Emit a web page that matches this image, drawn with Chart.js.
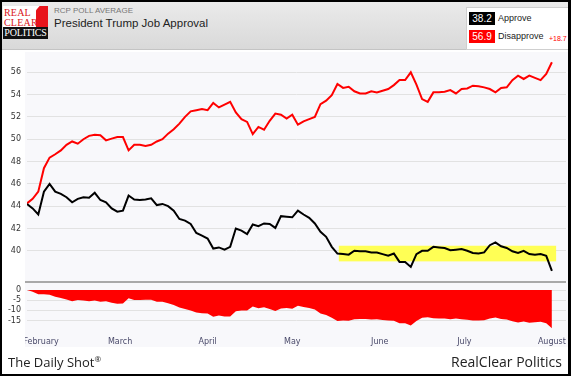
<!DOCTYPE html>
<html>
<head>
<meta charset="utf-8">
<script src="https://cdn.jsdelivr.net/npm/chart.js@4.4.1/dist/chart.umd.min.js"></script>
<style>
  body { margin: 0; background: #fff; }
  #wrap { position: relative; width: 571px; height: 376px; overflow: hidden; background: #fff; font-family: "Liberation Sans", Arial, sans-serif; }
  #header { position: absolute; left: 0; top: 0; width: 571px; height: 49px; background: linear-gradient(#ebebeb, #d9d9d9); border-bottom: 1px solid #c4c4c4; }
  #logo { position: absolute; left: 3px; top: 6px; width: 45px; height: 33px; background: #fff; overflow: hidden; }
  #logo .corner { position: absolute; right: 0; top: 0; width: 12px; height: 21px; background: #e8141b; clip-path: polygon(30% 0, 100% 0, 100% 100%, 0 100%, 0 20%); }
  #logo .txt { position: absolute; left: 1px; font-family: "Liberation Serif", serif; color: #d9141b; font-size: 10px; line-height: 10px; letter-spacing: 0.2px; }
  #logo .bar { position: absolute; left: 0; bottom: 0; width: 45px; height: 12px; background: #111; color: #fff; font-family: "Liberation Serif", serif; font-size: 10px; line-height: 12px; text-align: center; letter-spacing: -0.2px; }
  #sub { position: absolute; left: 54px; top: 6px; font-size: 8px; color: #777; }
  #title { position: absolute; left: 54px; top: 17px; font-size: 11.5px; color: #222; }
  #legend { position: absolute; left: 466px; top: 7px; width: 110px; height: 41px; background: #fff; border: 1px solid #cfcfcf; }
  .badge { position: absolute; left: 2px; width: 26px; height: 13px; color: #fff; font-size: 10px; line-height: 13px; text-align: center; }
  .lab { position: absolute; left: 31px; font-size: 9px; line-height: 13px; color: #222; }
  #diff { position: absolute; left: 82px; top: 24px; font-size: 7px; line-height: 13px; color: #ff0000; }
  #plotbg { position: absolute; left: 25px; top: 52px; width: 543px; height: 295px; background: #f8f8fb; }
  canvas { position: absolute; left: 0; }
  #topChart { top: 52px; }
  #bottomChart { top: 284px; }
  #foot1 { position: absolute; left: 8px; top: 353px; font-family: "Open Sans", sans-serif; font-size: 13px; color: #222; }
  #foot1 sup { font-size: 8px; }
  #foot2 { position: absolute; right: 9px; top: 352px; font-family: "Open Sans", sans-serif; font-size: 14px; color: #222; }
  #frame { position: absolute; left: 0; top: 0; width: 571px; height: 376px; box-sizing: border-box; border: 2px solid #000; border-right-width: 3px; pointer-events: none; }
</style>
</head>
<body>
<div id="wrap">
  <div id="header">
    <div id="logo">
      <div class="corner"></div>
      <div class="txt" style="top:2px">REAL</div>
      <div class="txt" style="top:12px">CLEAR</div>
      <div class="bar">POLITICS</div>
    </div>
    <div id="sub">RCP POLL AVERAGE</div>
    <div id="title">President Trump Job Approval</div>
    <div id="legend">
      <div class="badge" id="approveBadge" style="top:4px; background:#000"></div>
      <div class="lab" style="top:4px">Approve</div>
      <div class="badge" id="disapproveBadge" style="top:22px; background:#ff0000"></div>
      <div class="lab" style="top:22px">Disapprove</div>
      <div id="diff"></div>
    </div>
  </div>
  <div id="plotbg"></div>
  <canvas id="topChart" width="568" height="231"></canvas>
  <canvas id="bottomChart" width="568" height="73"></canvas>
  <div id="foot1">The Daily Shot<sup>®</sup></div>
  <div id="foot2">RealClear Politics</div>
  <div id="frame"></div>
</div>

<script>
// RCP poll average, one value every 2 days starting Jan 27, 2017 (day 0)
const dayStep = 2;

const approve = [
  44.2, 43.8, 43.25, 45.3, 46.0, 45.3, 45.1, 44.8, 44.35, 44.65,
  44.8, 44.75, 45.2, 44.55, 44.35, 43.8, 43.5, 43.6, 44.95, 44.6,
  44.55, 44.6, 44.7, 44.1, 44.2, 44.0, 43.6, 42.85, 42.7, 42.4,
  41.6, 41.35, 41.1, 40.2, 40.3, 40.1, 40.35, 42.0, 41.8, 41.5,
  42.35, 42.2, 42.45, 42.4, 42.05, 43.1, 43.05, 43.0, 43.6, 43.25,
  42.95, 42.45, 41.7, 41.25, 40.35, 39.75, 39.7, 39.65, 40.0, 39.95,
  39.95, 39.85, 39.85, 39.7, 39.55, 39.75, 39.0, 39.0, 38.55, 39.7,
  40.0, 40.0, 40.35, 40.3, 40.25, 40.05, 40.1, 40.15, 40.0, 39.8,
  39.75, 39.85, 40.5, 40.75, 40.4, 40.25, 39.95, 39.8, 40.0, 39.7,
  39.65, 39.7, 39.55, 38.2
];

const disapprove = [
  44.25, 44.65, 45.3, 47.4, 48.35, 48.65, 49.0, 49.5, 49.8, 49.6,
  50.0, 50.3, 50.4, 50.35, 49.9, 50.05, 50.2, 50.2, 49.0, 49.5,
  49.5, 49.4, 49.5, 49.8, 50.0, 50.5, 50.9, 51.4, 52.0, 52.5,
  52.6, 52.7, 52.6, 53.25, 52.85, 53.1, 53.35, 52.4, 51.8, 51.55,
  50.45, 51.1, 50.85, 51.65, 52.3, 52.2, 51.85, 52.2, 51.3, 51.6,
  51.8, 52.0, 53.15, 53.45, 53.95, 54.95, 54.6, 54.7, 54.3, 54.1,
  54.1, 54.3, 54.2, 54.35, 54.5, 54.85, 55.3, 55.3, 56.0, 54.9,
  53.6, 53.35, 54.2, 54.2, 54.25, 54.4, 54.1, 54.5, 54.55, 54.8,
  54.75, 54.65, 54.5, 54.2, 54.6, 54.65, 55.3, 55.7, 55.4, 55.7,
  55.5, 55.3, 55.85, 56.9
];

const spread = [
  -0.05, -0.85, -2.05, -2.1, -2.35, -3.35, -3.9, -4.7, -5.45, -4.95,
  -5.2, -5.55, -5.2, -5.8, -5.55, -6.25, -6.7, -6.6, -4.05, -4.9,
  -4.95, -4.8, -4.8, -5.7, -5.8, -6.5, -7.3, -8.55, -9.3, -10.1,
  -11.0, -11.35, -11.5, -13.05, -12.55, -13.0, -13.0, -10.4, -10.0, -10.05,
  -8.1, -8.9, -8.4, -9.25, -10.25, -9.1, -8.8, -9.2, -7.7, -8.35,
  -8.85, -9.55, -11.45, -12.2, -13.6, -15.2, -14.9, -15.05, -14.3, -14.15,
  -14.15, -14.45, -14.35, -14.65, -14.95, -15.1, -16.3, -16.3, -17.45, -15.2,
  -13.6, -13.35, -13.85, -13.9, -14.0, -14.35, -14.0, -14.35, -14.55, -15.0,
  -15.0, -14.8, -14.0, -13.45, -14.2, -14.4, -15.35, -15.9, -15.4, -16.0,
  -15.85, -15.6, -16.3, -18.7
];

const monthLabels = ['February', 'March', 'April', 'May', 'June', 'July', 'August'];
const monthDays = [5, 33, 64, 94, 125, 155, 186];
const approvalTicks = [40, 42, 44, 46, 48, 50, 52, 54, 56];
const spreadTicks = [0, -5, -10, -15];

const latestApprove = '38.2';
const latestDisapprove = '56.9';
const latestSpread = '+18.7';

// yellow band: days and values it covers
const bandDays = [110.5, 187.5];
const bandValues = [39.05, 40.45];

document.getElementById('approveBadge').textContent = latestApprove;
document.getElementById('disapproveBadge').textContent = latestDisapprove;
document.getElementById('diff').textContent = latestSpread;

const toPoints = arr => arr.map((v, i) => ({ x: i * dayStep, y: v }));

const tickFont = { family: 'DejaVu Sans', size: 8 };

// keep the plot area where it is, whatever the labels need
const fixY = s => { s.width = 27; s.paddingTop = 0; s.paddingBottom = 0; };
const fixX = s => { s.paddingLeft = 0; s.paddingRight = 0; };

const bandPlugin = {
  id: 'band',
  beforeDatasetsDraw(chart) {
    const { ctx, scales } = chart;
    const x1 = scales.x.getPixelForValue(bandDays[0]);
    const x2 = scales.x.getPixelForValue(bandDays[1]);
    const y1 = scales.y.getPixelForValue(bandValues[1]);
    const y2 = scales.y.getPixelForValue(bandValues[0]);
    ctx.save();
    ctx.fillStyle = '#ffff55';
    ctx.fillRect(x1, y1, x2 - x1, y2 - y1);
    ctx.restore();
  },
  afterDraw(chart) {
    const { ctx, chartArea } = chart;
    ctx.save();
    ctx.strokeStyle = '#a9a9a9';
    ctx.lineWidth = 2;
    ctx.beginPath();
    ctx.moveTo(chartArea.left - 2, chartArea.bottom);
    ctx.lineTo(chartArea.right, chartArea.bottom);
    ctx.stroke();
    ctx.restore();
  }
};

const clipPlugin = {
  id: 'clipLeft',
  afterDraw(chart) {
    const { ctx, chartArea } = chart;
    ctx.save();
    ctx.fillStyle = '#fff';
    ctx.fillRect(0, chartArea.bottom + 2, 25, chart.height);
    ctx.restore();
  }
};

new Chart(document.getElementById('topChart'), {
  type: 'line',
  data: {
    datasets: [
      {
        label: 'Approve',
        data: toPoints(approve),
        borderColor: '#000000',
        borderWidth: 2,
        pointRadius: 0,
        tension: 0
      },
      {
        label: 'Disapprove',
        data: toPoints(disapprove),
        borderColor: '#ff0000',
        borderWidth: 2,
        pointRadius: 0,
        tension: 0
      }
    ]
  },
  options: {
    responsive: false,
    animation: false,
    events: [],
    layout: { padding: { top: 3, right: 2, bottom: 1, left: 0 } },
    plugins: { legend: { display: false }, tooltip: { enabled: false } },
    scales: {
      x: { type: 'linear', min: 0, max: 191, display: false },
      y: {
        min: 37.2,
        max: 57.55,
        afterFit: fixY,
        afterBuildTicks: s => { s.ticks = approvalTicks.map(v => ({ value: v })); },
        border: { display: false },
        grid: { color: '#e2e2e2', drawTicks: false },
        ticks: { font: tickFont, color: '#333', padding: 6, autoSkip: false }
      }
    }
  },
  plugins: [bandPlugin]
});

new Chart(document.getElementById('bottomChart'), {
  type: 'line',
  data: {
    datasets: [
      {
        label: 'Spread',
        data: toPoints(spread),
        borderWidth: 0,
        borderColor: '#ff0000',
        backgroundColor: '#ff0000',
        fill: 'origin',
        pointRadius: 0,
        tension: 0
      }
    ]
  },
  options: {
    responsive: false,
    animation: false,
    events: [],
    layout: { padding: { top: 1, right: 2, bottom: 2, left: 0 } },
    plugins: { legend: { display: false }, tooltip: { enabled: false } },
    scales: {
      x: {
        type: 'linear',
        min: 0,
        max: 191,
        afterFit: fixX,
        afterBuildTicks: s => { s.ticks = monthDays.map(v => ({ value: v })); },
        border: { display: false },
        grid: { display: false, drawTicks: false },
        ticks: {
          font: tickFont,
          color: '#4a4a6a',
          padding: 8,
          maxRotation: 0,
          autoSkip: false,
          callback: (v) => monthLabels[monthDays.indexOf(v)]
        }
      },
      y: {
        min: -19.3,
        max: 2.45,
        afterFit: fixY,
        afterBuildTicks: s => { s.ticks = spreadTicks.map(v => ({ value: v })); },
        border: { display: false },
        grid: { color: '#e2e2e2', drawTicks: false },
        ticks: { font: tickFont, color: '#333', padding: 6, autoSkip: false }
      }
    }
  },
  plugins: [clipPlugin]
});
</script>
</body>
</html>
